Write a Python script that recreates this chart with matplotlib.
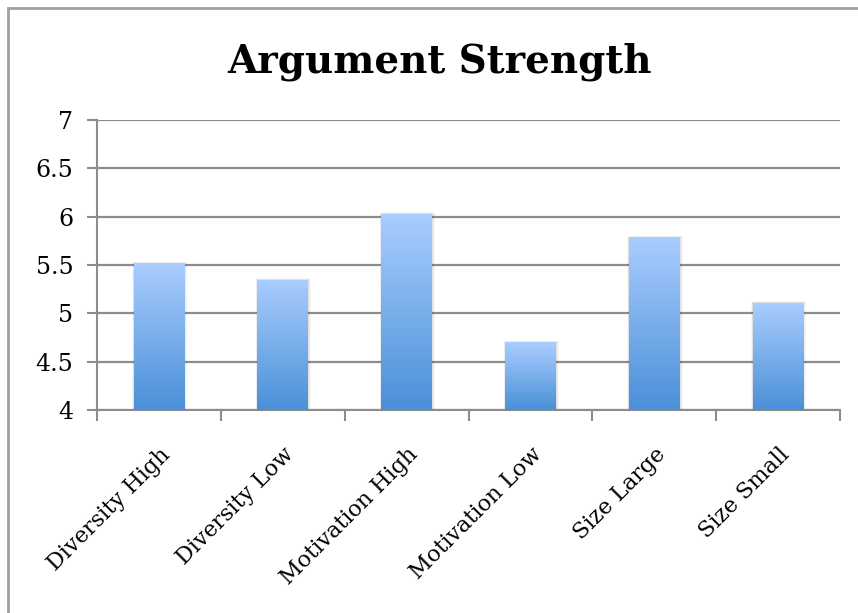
import matplotlib.pyplot as plt
import numpy as np
from matplotlib.patches import Rectangle
from matplotlib.colors import LinearSegmentedColormap

categories = ["Diversity High", "Diversity Low", "Motivation High",
              "Motivation Low", "Size Large", "Size Small"]
strength = [5.52, 5.35, 6.03, 4.70, 5.79, 5.11]
y_ticks = [4, 4.5, 5, 5.5, 6, 6.5, 7]
y_labels = ['4', '4.5', '5', '5.5', '6', '6.5', '7']

plt.rcParams['font.family'] = ['DejaVu Serif']

fig = plt.figure(figsize=(8.58, 6.13), dpi=100)
ax = fig.add_axes([97 / 858, 1 - 410 / 613, 743 / 858, 290 / 613])

index = np.arange(len(categories))
bar_width = 0.41
bars = ax.bar(index, np.array(strength) - 4, bar_width, bottom=4,
              color='none', edgecolor='none', zorder=3)

# vertical gradient, light on top, darker at the base
grad = np.linspace(0, 1, 256).reshape(-1, 1)
cmap = LinearSegmentedColormap.from_list('bar', ['#4a90d8', '#aacdff'])
for b in bars:
    x0, y0 = b.get_x(), b.get_y()
    w, h = b.get_width(), b.get_height()
    # soft shadow
    for k, a in enumerate([0.05, 0.04, 0.03]):
        d = 0.008 * (k + 1)
        ax.add_patch(Rectangle((x0 - d / 2, y0), w + d * 1.5, h + d * 0.6,
                               facecolor='#000000', alpha=a,
                               edgecolor='none', zorder=2))
    im = ax.imshow(grad, cmap=cmap, aspect='auto', origin='lower',
                   extent=(x0, x0 + w, y0, y0 + h), zorder=3)
    im.set_clip_path(b)

ax.set_xlim(-0.5, len(categories) - 0.5)
ax.set_ylim(4, 7)
ax.set_yticks(y_ticks)
ax.set_yticklabels(y_labels)
ax.yaxis.grid(True, color='#8c8c8c', linewidth=1.6, zorder=0)
ax.set_axisbelow(True)

ax.set_xticks(index)
ax.set_xticklabels(categories, rotation=45, ha='right',
                   rotation_mode='anchor', fontsize=16)
ax.set_xticks(np.arange(-0.5, len(categories)), minor=True)
ax.tick_params(axis='x', which='major', length=0, pad=24)
ax.tick_params(axis='x', which='minor', length=8, width=1.5,
               color='#8c8c8c', direction='out')
ax.tick_params(axis='y', length=7, width=1.5, color='#8c8c8c',
               labelsize=17, pad=10)

for s in ['top', 'right']:
    ax.spines[s].set_visible(False)
for s in ['left', 'bottom']:
    ax.spines[s].set_color('#8c8c8c')
    ax.spines[s].set_linewidth(1.5)

fig.text(439 / 858, 1 - 62 / 613, 'Argument Strength', ha='center',
         va='center', fontsize=28, fontweight='bold')

# chart frame
fig.add_artist(Rectangle((8 / 858, -0.1), 1.0, 1 - 8 / 613 + 0.1,
                         transform=fig.transFigure, fill=False,
                         edgecolor='#a0a0a0', linewidth=2))

fig.savefig('out.png', dpi=100)
